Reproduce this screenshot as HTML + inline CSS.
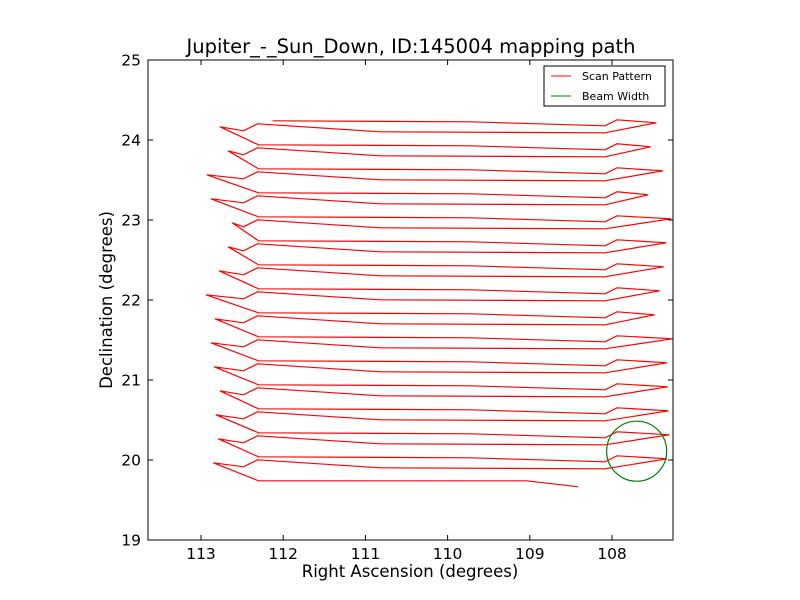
<!DOCTYPE html>
<html><head><meta charset="utf-8"><style>
body{margin:0;background:#fff;}
svg{display:block;font-family:"DejaVu Sans","Liberation Sans",sans-serif;}
</style></head><body>
<svg id="chart" width="800" height="600">
<rect width="800" height="600" fill="#fff"/>
<text x="411" y="53" text-anchor="middle" font-size="19.5">Jupiter_-_Sun_Down, ID:145004 mapping path</text>
<g id="plot"></g>
<rect x="148" y="60" width="525" height="480" fill="none" stroke="#000" stroke-width="1"/>
<g id="axes"></g>
<text x="410" y="577" text-anchor="middle" font-size="16.5">Right Ascension (degrees)</text>
<text transform="translate(112,300) rotate(-90)" text-anchor="middle" font-size="16.5">Declination (degrees)</text>
<g>
<rect x="544" y="66" width="121" height="40" fill="#fff" stroke="#000"/>
<line x1="551" y1="76" x2="571" y2="76" stroke="red"/>
<text x="582" y="80" font-size="11">Scan Pattern</text>
<line x1="551" y1="96" x2="571" y2="96" stroke="green"/>
<text x="582" y="100" font-size="11">Beam Width</text>
</g>
</svg>
<script>
const rowDec=[24.24,23.94,23.64,23.34,23.04,22.74,22.44,22.14,21.84,21.54,21.24,20.94,20.64,20.34,20.04,19.74];
const leftTipRA=[112.77,112.67,112.93,112.88,112.62,112.67,112.78,112.94,112.83,112.88,112.84,112.77,112.82,112.79,112.85];
const rightTipRA=[107.46,107.53,107.38,107.56,107.28,107.34,107.37,107.42,107.48,107.26,107.33,107.32,107.31,107.30,107.33];
const startRA=112.13, endRA=108.41, lastBendRA=109.04;
const beamRA=107.70, beamDec=20.11, beamRadius=0.365;
const xTicks=[113,112,111,110,109,108];
const yTicks=[19,20,21,22,23,24,25];
const NS="http://www.w3.org/2000/svg";
function xS(ra){return 201+(113-ra)*82.2;}
function yS(d){return 60+(25-d)*80;}
const plot=document.getElementById('plot');
let pts=[];
const xL=xS(112.3);
for(let k=0;k<rowDec.length;k++){
  const y=yS(rowDec[k]);
  if(k===0) pts.push([xS(startRA),y]); else pts.push([xL,y]);
  if(k===rowDec.length-1){
    pts.push([xS(lastBendRA),y]);pts.push([xS(endRA),y+6]);break;
  }
  pts.push([470,y+1]);pts.push([605,y+5]);pts.push([617,y-1]);
  pts.push([xS(rightTipRA[k]),y+2]);pts.push([605,y+12]);
  pts.push([380,y+11]);pts.push([xL-1,y+3]);pts.push([xL-15,y+10]);
  pts.push([xS(leftTipRA[k]),y+6]);
}
const cp=document.createElementNS(NS,'clipPath');cp.setAttribute('id','clip');
const cr=document.createElementNS(NS,'rect');cr.setAttribute('x',148);cr.setAttribute('y',60);cr.setAttribute('width',525);cr.setAttribute('height',480);
cp.appendChild(cr);plot.appendChild(cp);
const pl=document.createElementNS(NS,'polyline');
pl.setAttribute('points',pts.map(p=>p[0].toFixed(1)+','+p[1].toFixed(1)).join(' '));
pl.setAttribute('fill','none');pl.setAttribute('stroke','red');pl.setAttribute('stroke-width','1.2');
pl.setAttribute('clip-path','url(#clip)');


plot.appendChild(pl);
const c=document.createElementNS(NS,'circle');
c.setAttribute('cx',xS(beamRA));c.setAttribute('cy',yS(beamDec));c.setAttribute('r',beamRadius*82.2);
c.setAttribute('fill','none');c.setAttribute('stroke','green');c.setAttribute('stroke-width','1.2');


plot.appendChild(c);
const ax=document.getElementById('axes');
function mk(tag,attrs){const e=document.createElementNS(NS,tag);for(const k in attrs)e.setAttribute(k,attrs[k]);ax.appendChild(e);return e;}
xTicks.forEach(v=>{
  const x=xS(v);
  const t1=mk('line',{x1:x,y1:540,x2:x,y2:535,stroke:'#000'});
  
  
  const t2=mk('line',{x1:x,y1:60,x2:x,y2:65,stroke:'#000'});
  
  
  const tx=mk('text',{x:x,y:559,'text-anchor':'middle','font-size':'15.5'});tx.textContent=v;
  
  
});
yTicks.forEach(v=>{
  const y=yS(v);
  const t1=mk('line',{x1:148,y1:y,x2:153,y2:y,stroke:'#000'});
  
  
  const t2=mk('line',{x1:673,y1:y,x2:668,y2:y,stroke:'#000'});
  
  
  const tx=mk('text',{x:141,y:y+5.5,'text-anchor':'end','font-size':'15.5'});tx.textContent=v;
  
  
});
</script>
</body></html>
